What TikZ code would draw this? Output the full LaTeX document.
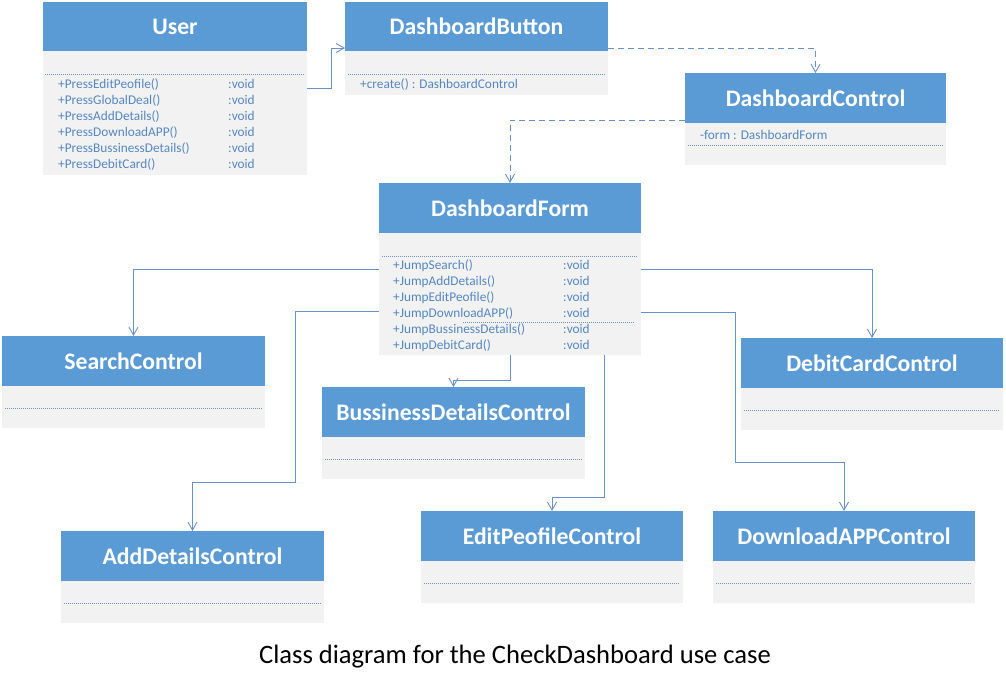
\documentclass[tikz,border=0pt]{standalone}
\usepackage{fontspec}
\setmainfont{Carlito}
\usetikzlibrary{arrows.meta,calc}
\definecolor{headblue}{RGB}{91,155,213}
\definecolor{bodygray}{RGB}{242,242,242}
\definecolor{txtblue}{RGB}{84,134,194}
\definecolor{linkblue}{RGB}{105,145,200}
\definecolor{dotblue}{RGB}{110,145,195}
% #1 name, #2 x1, #3 y1, #4 x2, #5 y header bottom, #6 y2, #7 title
\newcommand\umlbox[7]{%
  \node[classbody, minimum width={(#4-#2)*1pt}, minimum height={(#6-#3)*1pt}, anchor=north west] (#1) at (#2,#3) {};
  \node[classhead, minimum width={(#4-#2)*1pt}, minimum height={(#5-#3)*1pt}, anchor=north west] (#1-h) at (#2,#3) {#7};
}
\newcommand\mline[4]{\node[mtext] (#1) at (#2,#3) {#4};}
\newcommand\dotsep[3]{\draw[dotsepline] (#1,#3) -- (#2,#3);}
\begin{document}
\begin{tikzpicture}[x=1pt,y=-1pt,
  classbody/.style={fill=bodygray, draw=none, inner sep=0pt, outer sep=0pt},
  classhead/.style={fill=headblue, draw=none, inner sep=0pt, outer sep=0pt, text=white, font=\bfseries\fontsize{23.7}{26}\selectfont},
  mtext/.style={anchor=base west, inner sep=0pt, text=txtblue, font=\fontsize{13.3}{15}\selectfont},
  dotsepline/.style={dotblue, line width=0.8pt, dash pattern=on 1pt off 1pt},
  assoc/.style={linkblue, line width=1pt, -{Straight Barb[length=8pt,width=9pt,line width=0.9pt]}},
  dep/.style={assoc, dash pattern=on 6pt off 4pt}]
\useasboundingbox[fill=white] (0,0) rectangle (1006,686);

% classes
\umlbox{user}{43}{2}{307}{51}{175}{User}
\umlbox{button}{345}{2}{608}{51}{95}{DashboardButton}
\umlbox{control}{685}{73}{946}{123}{165}{DashboardControl}
\umlbox{form}{379}{183}{641}{233}{355}{DashboardForm}
\umlbox{search}{2}{336}{265}{386}{428}{SearchControl}
\umlbox{biz}{322}{387}{585}{437}{479}{BussinessDetailsControl}
\umlbox{debit}{741}{338}{1003}{388}{430}{DebitCardControl}
\umlbox{add}{61}{531}{324}{581}{623}{AddDetailsControl}
\umlbox{edit}{421}{511}{683}{561}{603}{EditPeofileControl}
\umlbox{down}{713}{511}{975}{561}{603}{DownloadAPPControl}

% separators
\dotsep{45}{305}{74}
\dotsep{348}{605}{74}
\dotsep{688}{943}{145}
\dotsep{382}{638}{256}
\dotsep{463}{635}{322}
\dotsep{5}{262}{408}
\dotsep{325}{582}{459}
\dotsep{744}{1000}{410}
\dotsep{64}{321}{603}
\dotsep{424}{680}{583}
\dotsep{716}{972}{583}

% User operations
\mline{u1}{58}{88}{+PressEditPeofile()}
\mline{u2}{58}{104}{+PressGlobalDeal()}
\mline{u3}{58}{120}{+PressAddDetails()}
\mline{u4}{58}{136}{+PressDownloadAPP()}
\mline{u5}{58}{152}{+PressBussinessDetails()}
\mline{u6}{58}{168}{+PressDebitCard()}
\mline{uv1}{228}{88}{:void}
\mline{uv2}{228}{104}{:void}
\mline{uv3}{228}{120}{:void}
\mline{uv4}{228}{136}{:void}
\mline{uv5}{228}{152}{:void}
\mline{uv6}{228}{168}{:void}

% DashboardButton / DashboardControl
\mline{b1}{360}{88}{+create() : DashboardControl}
\mline{c1}{700}{139}{-form : DashboardForm}

% DashboardForm operations
\mline{f1}{393}{269}{+JumpSearch()}
\mline{f2}{393}{285}{+JumpAddDetails()}
\mline{f3}{393}{301}{+JumpEditPeofile()}
\mline{f4}{393}{317}{+JumpDownloadAPP()}
\mline{f5}{393}{333}{+JumpBussinessDetails()}
\mline{f6}{393}{349}{+JumpDebitCard()}
\mline{fv1}{563}{269}{:void}
\mline{fv2}{563}{285}{:void}
\mline{fv3}{563}{301}{:void}
\mline{fv4}{563}{317}{:void}
\mline{fv5}{563}{333}{:void}
\mline{fv6}{563}{349}{:void}

% connectors
\draw[assoc] (user.east |- 0,88) -- (331,88) -- (331,48) -- (button.west |- 0,48);
\draw[dep] (button.east |- 0,48) -| (control.north);
\draw[dep] (control.west |- 0,120) -| (form.north);
\draw[assoc] (form.west |- 0,269) -| (search.north);
\draw[assoc] (form.west |- 0,311) -- (295,311) -- (295,482) -| (add.north);
\draw[assoc] (form.south) -- (510,380) -| (biz.north);
\draw[assoc] (form.south -| 604,0) -- (604,497) -| (edit.north);
\draw[assoc] (form.east |- 0,269) -| (debit.north);
\draw[assoc] (form.east |- 0,312) -- (735,312) -- (735,462) -| (down.north);

% caption
\node[font=\fontsize{26.6}{30}\selectfont, inner sep=0pt] (caption) at (515,657) {Class diagram for the CheckDashboard use case};
\end{tikzpicture}
\end{document}
